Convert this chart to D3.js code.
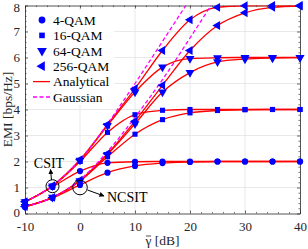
<!DOCTYPE html>
<html>
<head>
<meta charset="utf-8">
<script src="https://cdn.jsdelivr.net/npm/d3@7"></script>
<style>
  html, body { margin: 0; padding: 0; background: #fff; }
  svg { display: block; font-family: "Liberation Serif", "DejaVu Serif", serif; }
</style>
</head>
<body>
<div id="chart"></div>
<script>
// SNR grid (dB) where markers sit
const snrDb = [-10, -5, 0, 5, 10, 15, 20, 25, 30, 35, 40];

// EMI values [bps/Hz]
const qam4Csit    = [0.45, 1.02, 1.63, 1.95, 1.99, 2.00, 2.00, 2.00, 2.00, 2.00, 2.00];
const qam4Ncsit   = [0.25, 0.60, 1.10, 1.57, 1.83, 1.94, 1.98, 2.00, 2.00, 2.00, 2.00];
const qam16Csit   = [0.45, 1.05, 2.00, 3.12, 3.80, 3.97, 4.00, 4.00, 4.00, 4.00, 4.00];
const qam16Ncsit  = [0.26, 0.61, 1.25, 2.18, 3.05, 3.61, 3.87, 3.96, 3.99, 4.00, 4.00];
const qam64Csit   = [0.45, 1.06, 2.05, 3.38, 4.67, 5.63, 5.96, 5.99, 6.00, 6.00, 6.00];
const qam64Ncsit  = [0.27, 0.62, 1.26, 2.27, 3.45, 4.67, 5.42, 5.83, 5.94, 5.98, 6.00];
const qam256Csit  = [0.45, 1.07, 2.07, 3.42, 4.80, 6.27, 7.45, 7.93, 7.99, 8.00, 8.00];
const qam256Ncsit = [0.27, 0.62, 1.28, 2.30, 3.55, 4.93, 6.27, 7.23, 7.72, 7.93, 7.98];

// Gaussian input reference
const gaussSnrDb  = [-10, -5, 0, 5, 10, 15, 20, 25];
const gaussCsit   = [0.45, 1.07, 2.07, 3.45, 5.00, 6.62, 8.25, 9.90];
const gaussNcsit  = [0.27, 0.62, 1.30, 2.38, 3.70, 5.15, 6.75, 8.40];

const xTicks = [-10, 0, 10, 20, 30, 40];
const yTicks = [0, 1, 2, 3, 4, 5, 6, 7, 8];
const legendLabels = ["4-QAM", "16-QAM", "64-QAM", "256-QAM", "Analytical", "Gaussian"];

const width = 308, height = 249;
const pLeft = 25, pRight = 300, pTop = 5.5, pBottom = 213.5;

const svg = d3.select("#chart").append("svg")
  .attr("width", width).attr("height", height)
  .attr("viewBox", `0 0 ${width} ${height}`);

const xScale = d3.scaleLinear().domain([-10, 40]).range([pLeft, pRight]);
const yScale = d3.scaleLinear().domain([0, 8]).range([pBottom, pTop]);

const defs = svg.append("defs");
defs.append("clipPath").attr("id", "plotclip")
  .append("rect").attr("x", pLeft).attr("y", pTop)
  .attr("width", pRight - pLeft).attr("height", pBottom - pTop);
defs.append("marker").attr("id", "ah").attr("viewBox", "0 0 10 10")
  .attr("refX", 9).attr("refY", 5).attr("markerWidth", 5).attr("markerHeight", 5)
  .attr("orient", "auto")
  .append("path").attr("d", "M0,0L10,5L0,10z").attr("fill", "#000");

// grid
const grid = svg.append("g").attr("stroke", "#e3e3e3").attr("stroke-width", 0.8);
grid.selectAll(".gx").data(xTicks.slice(1, -1)).join("line")
  .attr("x1", d => xScale(d)).attr("x2", d => xScale(d))
  .attr("y1", pTop).attr("y2", pBottom);
grid.selectAll(".gy").data(yTicks.slice(1, -1)).join("line")
  .attr("y1", d => yScale(d)).attr("y2", d => yScale(d))
  .attr("x1", pLeft).attr("x2", pRight);

// axes (MATLAB-like: inward ticks, box on)
const axisColor = "#262626";
const styleAxis = g => {
  g.select(".domain").attr("stroke", axisColor).attr("stroke-width", 0.8);
  g.selectAll(".tick line").attr("stroke", axisColor).attr("stroke-width", 0.7);
  g.selectAll(".tick text").attr("fill", axisColor).style("font-size", "13px")
    .style("font-family", "'Liberation Serif', serif");
};
const plainFmt = d => String(d);

const xMinor = d3.range(-10, 40.1, 2).filter(d => !xTicks.includes(d));
const yMinor = d3.range(0, 8.01, 0.2).map(d => +d.toFixed(1)).filter(d => !yTicks.includes(d));

svg.append("g").attr("transform", `translate(0,${pBottom})`)
  .call(d3.axisBottom(xScale).tickValues(xTicks).tickFormat(plainFmt)
    .tickSizeInner(-3).tickSizeOuter(0).tickPadding(8))
  .call(styleAxis);
svg.append("g").attr("transform", `translate(0,${pTop})`)
  .call(d3.axisTop(xScale).tickValues(xTicks).tickSizeInner(-3).tickSizeOuter(0).tickFormat(""))
  .call(styleAxis);
svg.append("g").attr("transform", `translate(${pLeft},0)`)
  .call(d3.axisLeft(yScale).tickValues(yTicks).tickFormat(plainFmt)
    .tickSizeInner(-3).tickSizeOuter(0).tickPadding(5))
  .call(styleAxis)
  .call(g => g.selectAll(".tick text").filter(d => d === 8).attr("dy", "0.45em"))
  .call(g => g.selectAll(".tick text").filter(d => d === 0).attr("dy", "0.2em"));
svg.append("g").attr("transform", `translate(${pRight},0)`)
  .call(d3.axisRight(yScale).tickValues(yTicks).tickSizeInner(-3).tickSizeOuter(0).tickFormat(""))
  .call(styleAxis);

// minor ticks
[[d3.axisBottom(xScale).tickValues(xMinor), `translate(0,${pBottom})`],
 [d3.axisTop(xScale).tickValues(xMinor), `translate(0,${pTop})`],
 [d3.axisLeft(yScale).tickValues(yMinor), `translate(${pLeft},0)`],
 [d3.axisRight(yScale).tickValues(yMinor), `translate(${pRight},0)`]
].forEach(([ax, tr]) => {
  svg.append("g").attr("transform", tr)
    .call(ax.tickSizeInner(-1.6).tickSizeOuter(0).tickFormat(""))
    .call(g => g.select(".domain").remove())
    .call(g => g.selectAll(".tick line").attr("stroke", axisColor).attr("stroke-width", 0.6));
});

// curves
const plot = svg.append("g").attr("clip-path", "url(#plotclip)");
const line = d3.line().x(d => xScale(d[0])).y(d => yScale(d[1])).curve(d3.curveMonotoneX);

const series = [
  { vals: qam4Csit,    shape: d3.symbolCircle,   rot: 0,   size: 30 },
  { vals: qam4Ncsit,   shape: d3.symbolCircle,   rot: 0,   size: 30 },
  { vals: qam16Csit,   shape: d3.symbolSquare,   rot: 0,   size: 26 },
  { vals: qam16Ncsit,  shape: d3.symbolSquare,   rot: 0,   size: 26 },
  { vals: qam64Csit,   shape: d3.symbolTriangle, rot: 180, size: 34 },
  { vals: qam64Ncsit,  shape: d3.symbolTriangle, rot: 180, size: 34 },
  { vals: qam256Csit,  shape: d3.symbolTriangle, rot: -90, size: 34 },
  { vals: qam256Ncsit, shape: d3.symbolTriangle, rot: -90, size: 34 }
];

series.forEach(s => {
  plot.append("path")
    .datum(snrDb.map((x, i) => [x, s.vals[i]]))
    .attr("fill", "none").attr("stroke", "#ff0000").attr("stroke-width", 1.3)
    .attr("d", line);
});

[gaussCsit, gaussNcsit].forEach(vals => {
  plot.append("path")
    .datum(gaussSnrDb.map((x, i) => [x, vals[i]]))
    .attr("fill", "none").attr("stroke", "#ff00ff").attr("stroke-width", 1.3)
    .attr("stroke-dasharray", "4,2.5")
    .attr("d", line);
});

series.forEach(s => {
  svg.append("g").selectAll("path")
    .data(snrDb.map((x, i) => [x, s.vals[i]]))
    .join("path")
      .attr("transform", d => `translate(${xScale(d[0])},${yScale(d[1])}) rotate(${s.rot})`)
      .attr("d", d3.symbol().type(s.shape).size(s.size))
      .attr("fill", "#0000ff");
});

// legend
const legend = svg.append("g");
legend.append("rect").attr("x", 28).attr("y", 11).attr("width", 86).attr("height", 94).attr("fill", "#fff");
const rowY = i => 20 + i * 15.4;
legendLabels.forEach((lab, i) => {
  const y = rowY(i);
  if (i < 4) {
    const s = series[i * 2];
    legend.append("path")
      .attr("transform", `translate(42,${y}) rotate(${s.rot})`)
      .attr("d", d3.symbol().type(s.shape).size(s.size * 1.2))
      .attr("fill", "#0000ff");
  } else {
    legend.append("line").attr("x1", 33).attr("x2", 50).attr("y1", y).attr("y2", y)
      .attr("stroke", i === 4 ? "#ff0000" : "#ff00ff").attr("stroke-width", 1.3)
      .attr("stroke-dasharray", i === 4 ? null : "4,2.5");
  }
  legend.append("text").attr("x", 53).attr("y", y).attr("dy", "0.35em")
    .style("font-size", "13.5px").attr("fill", "#000").text(lab);
});

// annotations
const ann = svg.append("g").attr("fill", "none").attr("stroke", "#000").attr("stroke-width", 1);

ann.append("circle").attr("cx", xScale(-5)).attr("cy", yScale(1.05)).attr("r", 6.5);
ann.append("line").attr("x1", 51.5).attr("y1", 180).attr("x2", 50.5).attr("y2", 169.5)
  .attr("marker-end", "url(#ah)");
svg.append("text").attr("x", 49).attr("y", 168).attr("text-anchor", "middle")
  .style("font-size", "14px").text("CSIT");

ann.append("circle").attr("cx", xScale(0)).attr("cy", yScale(1.0)).attr("r", 7.3);
ann.append("line").attr("x1", 87.5).attr("y1", 190).attr("x2", 104).attr("y2", 196)
  .attr("marker-end", "url(#ah)");
svg.append("text").attr("x", 107).attr("y", 201.5)
  .style("font-size", "14px").text("NCSIT");

// axis titles
svg.append("text").attr("transform", `translate(12,${(pTop + pBottom) / 2}) rotate(-90)`)
  .attr("text-anchor", "middle").style("font-size", "13.5px").attr("fill", axisColor)
  .text("EMI [bps/Hz]");
const xTitle = svg.append("text").attr("x", (pLeft + pRight) / 2).attr("y", 245)
  .attr("text-anchor", "middle").style("font-size", "13.5px").attr("fill", axisColor)
  .text("\u03b3 [dB]");
// bar over gamma
const gStart = xTitle.node().getStartPositionOfChar(0);
const gEnd = xTitle.node().getEndPositionOfChar(0);
svg.append("line")
  .attr("x1", gStart.x + 0.5).attr("x2", gEnd.x - 0.3)
  .attr("y1", 245 - 9).attr("y2", 245 - 9)
  .attr("stroke", axisColor).attr("stroke-width", 0.8);
</script>
</body>
</html>
